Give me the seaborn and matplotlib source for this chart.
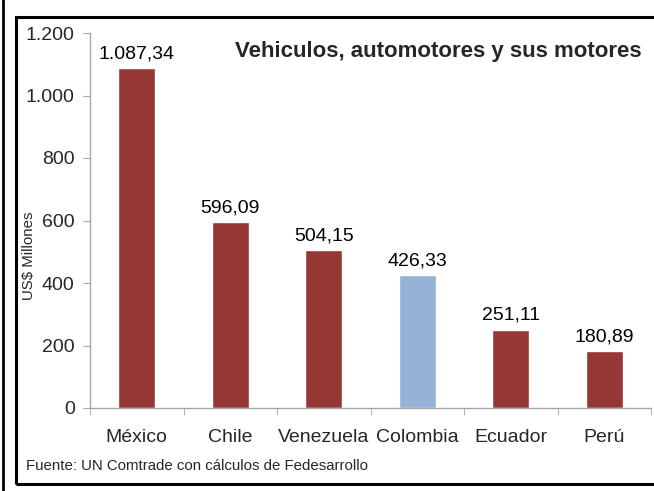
import seaborn as sns
import matplotlib.pyplot as plt
from matplotlib.patches import Rectangle
from matplotlib.lines import Line2D

countries = ['México', 'Chile', 'Venezuela', 'Colombia', 'Ecuador', 'Perú']
values = [1087.34, 596.09, 504.15, 426.33, 251.11, 180.89]
value_labels = ['1.087,34', '596,09', '504,15', '426,33', '251,11', '180,89']
bar_colors = ['#953735', '#953735', '#953735', '#95B3D7', '#953735', '#953735']
y_ticks = [0, 200, 400, 600, 800, 1000, 1200]
y_tick_labels = ['0', '200', '400', '600', '800', '1.000', '1.200']

sns.set_style('white')
plt.rcParams['font.family'] = ['Liberation Sans', 'DejaVu Sans']

fig = plt.figure(figsize=(6.54, 4.91), dpi=100)
ax = fig.add_axes([90 / 654, 1 - 408 / 491, 561 / 654, 375 / 491])

sns.barplot(x=countries, y=values, hue=countries, palette=bar_colors,
            width=0.4, legend=False, saturation=1, ax=ax)

for i, (v, lab) in enumerate(zip(values, value_labels)):
    ax.text(i, v + 18, lab, ha='center', va='bottom', fontsize=14, color='#000000')

ax.set_xlim(-0.5, 5.5)
ax.set_ylim(0, 1200)
ax.set_yticks(y_ticks)
ax.set_yticklabels(y_tick_labels, fontsize=14)
ax.set_xticks(range(len(countries)))
ax.set_xticklabels(countries, fontsize=14)
ax.set_xticks([x - 0.5 for x in range(len(countries) + 1)], minor=True)
ax.tick_params(axis='x', which='major', length=0, pad=15)
ax.tick_params(axis='x', which='minor', length=5, color='#A6A6A6', direction='out')
ax.tick_params(axis='y', length=5, color='#A6A6A6', direction='out', pad=6)
ax.xaxis.set_tick_params(bottom=True, which='minor')
ax.yaxis.set_tick_params(left=True)

for side in ['top', 'right']:
    ax.spines[side].set_visible(False)
for side in ['left', 'bottom']:
    ax.spines[side].set_color('#A6A6A6')
    ax.spines[side].set_linewidth(1)

ax.set_xlabel('')
ax.set_ylabel('')
fig.text(29 / 654, 1 - 256 / 491, 'US$ Millones', rotation=90, ha='center',
         va='center', fontsize=10.8)

fig.text(438 / 654, 1 - 52 / 491, 'Vehiculos, automotores y sus motores',
         ha='center', va='center', fontsize=16, fontweight='bold')
fig.text(26 / 654, 1 - 466 / 491, 'Fuente: UN Comtrade con cálculos de Fedesarrollo',
         ha='left', va='center', fontsize=10.8)

# frame around the chart
fig.patches.append(Rectangle((16 / 654, 1 - 484 / 491), 700 / 654, 467 / 491,
                             transform=fig.transFigure, fill=False,
                             edgecolor='black', linewidth=2.2))
fig.lines.append(Line2D([3 / 654, 3 / 654], [0, 1], transform=fig.transFigure,
                        color='black', linewidth=2))

fig.savefig('out.png', dpi=100)
